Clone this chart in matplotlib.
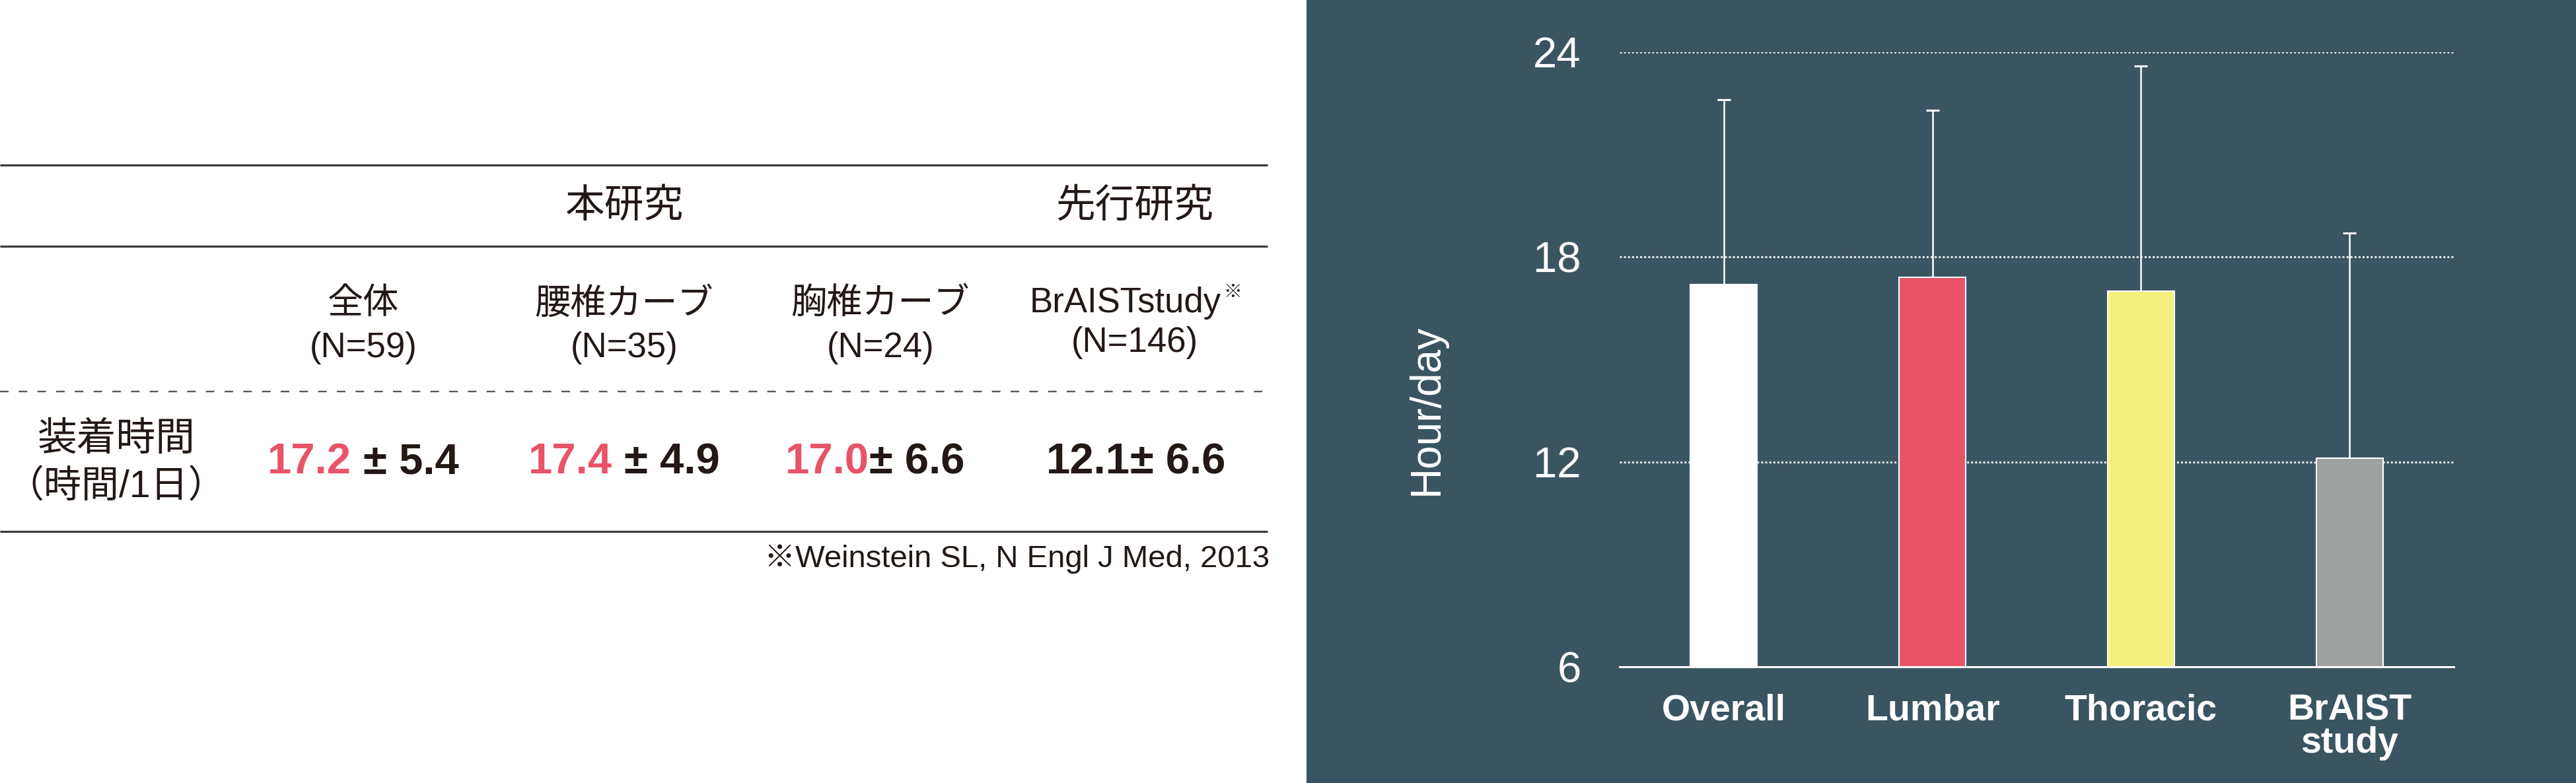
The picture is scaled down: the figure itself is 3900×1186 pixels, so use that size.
import matplotlib
matplotlib.use("Agg")
import matplotlib.pyplot as plt
from matplotlib.patches import Rectangle

# ---------------- data ----------------
groups_en = ["Overall", "Lumbar", "Thoracic", "BrAIST\nstudy"]
means = [17.2, 17.4, 17.0, 12.1]
sds = [5.4, 4.9, 6.6, 6.6]
value_seps = [" ± ", " ± ", "± ", "± "]
col_names_jp = ["全体", "腰椎カーブ", "胸椎カーブ", "BrAISTstudy"]
col_ns = [59, 35, 24, 146]
header_jp = ["本研究", "先行研究"]
row_label_jp = ["装着時間", "（時間/1日）"]
footnote = "※Weinstein SL, N Engl J Med, 2013"
yticks = [6, 12, 18, 24]
ylabel = "Hour/day"

bar_colors = ["#ffffff", "#e95367", "#f5ef7f", "#9fa0a0"]
value_colors = ["#e85468", "#e85468", "#e85468", "#231815"]

# ---------------- figure ----------------
W, H = 3900, 1186
fig = plt.figure(figsize=(W / 100, H / 100), dpi=100)
fig.patch.set_facecolor("white")

LAT = "Liberation Sans"
MIX = ["Liberation Sans", "Noto Sans CJK JP"]
TXT = "#231815"
PANEL = "#3a5562"

# overlay axes in pixel coordinates (y downward)
ax_t = fig.add_axes([0, 0, 1, 1])
ax_t.set_xlim(0, W)
ax_t.set_ylim(H, 0)
ax_t.axis("off")
ax_t.set_zorder(0)

# right panel background
ax_t.add_patch(Rectangle((1978, 0), W - 1978, H, facecolor=PANEL, edgecolor="none"))

# table lines
line_c = "#3e3a39"
for yy in (250, 373, 805):
    ax_t.plot([0, 1919], [yy, yy], color=line_c, lw=2.3, solid_capstyle="butt")
ax_t.plot([0, 1912], [593, 593], color="#595757", lw=1.7,
          ls=(0, (5.5, 6.5)), dash_capstyle="butt")

col_x = [550, 945, 1333, 1718]
renderer = fig.canvas.get_renderer()

# headers
ax_t.text(col_x[1], 313, header_jp[0], ha="center", va="center", fontsize=43,
          family=MIX, color=TXT)
ax_t.text(col_x[3], 313, header_jp[1], ha="center", va="center", fontsize=43,
          family=MIX, color=TXT)

# column labels
for i, (nm, n) in enumerate(zip(col_names_jp, col_ns)):
    if i < 3:
        ax_t.text(col_x[i], 461, nm, ha="center", va="center", fontsize=39,
                  family=MIX, color=TXT)
        ax_t.text(col_x[i], 527, f"(N={n})", ha="center", va="center",
                  fontsize=38, family=MIX, color=TXT)
    else:
        t = ax_t.text(col_x[i] - 14, 473, nm, ha="center", va="baseline",
                      fontsize=38, family=MIX, color=TXT)
        bb = t.get_window_extent(renderer)
        ax_t.text(bb.x1 + 3, 428, "※", ha="left", va="top", fontsize=20,
                  family=["Noto Sans CJK JP"], color=TXT)
        ax_t.text(col_x[i], 519, f"(N={n})", ha="center", va="center",
                  fontsize=38, family=MIX, color=TXT)

# row label
ax_t.text(176, 666, row_label_jp[0], ha="center", va="center", fontsize=43,
          family=MIX, color=TXT)
ax_t.text(176, 738, row_label_jp[1], ha="center", va="center", fontsize=41,
          family=MIX, color=TXT)

# values
val_x = [550, 945, 1325, 1720]
for i in range(4):
    s1 = f"{means[i]:.1f}"
    s2 = f"{value_seps[i]}{sds[i]:.1f}"
    t1 = ax_t.text(0, 700, s1, ha="left", va="center", fontsize=47,
                   family=LAT, weight="bold", color=value_colors[i])
    t2 = ax_t.text(0, 700, s2, ha="left", va="center", fontsize=47,
                   family=LAT, weight="bold", color=TXT)
    w1 = t1.get_window_extent(renderer).width
    w2 = t2.get_window_extent(renderer).width
    left = val_x[i] - (w1 + w2) / 2
    t1.set_x(left)
    t2.set_x(left + w1)

# footnote
ax_t.text(1922, 847, footnote, ha="right", va="center", fontsize=34,
          family=MIX, color=TXT)

# ---------------- bar chart ----------------
ax = fig.add_axes([2452 / W, 176 / H, (3715 - 2452) / W, (1010 - 79) / H])
ax.set_zorder(2)
ax.set_facecolor("none")
x = list(range(len(means)))
ax.bar(x, means, width=0.32, color=bar_colors, edgecolor="white",
       linewidth=1.5, zorder=3)
ax.errorbar(x, means, yerr=[[0] * len(sds), sds], fmt="none", ecolor="white",
            elinewidth=1.8, capsize=7.2, capthick=2.2, zorder=2)
ax.set_xlim(-0.5, 3.5)
ax.set_ylim(yticks[0], yticks[-1])
ax.set_yticks(yticks)
ax.set_yticklabels([str(v) for v in yticks])
for v in yticks[1:]:
    ax.axhline(v, color="#e3e8ea", lw=2.2, ls=(0, (1, 1)), zorder=1)
ax.set_xticks(x)
ax.set_xticklabels(groups_en, fontsize=40, family=LAT, weight="bold",
                   color="white", linespacing=0.95)
ax.tick_params(axis="x", length=0, pad=29)
ax.tick_params(axis="y", length=0, pad=42, labelsize=47, labelcolor="white")
for lab in ax.get_yticklabels():
    lab.set_family(LAT)
for s in ("top", "right", "left"):
    ax.spines[s].set_visible(False)
ax.spines["bottom"].set_color("white")
ax.spines["bottom"].set_linewidth(2.2)
ax.spines["bottom"].set_zorder(4)

ax_t.text(2160, 620, ylabel, rotation=90, ha="center", va="center",
          fontsize=46, family=LAT, color="white")

fig.savefig("out.png", dpi=100, facecolor=fig.get_facecolor())
